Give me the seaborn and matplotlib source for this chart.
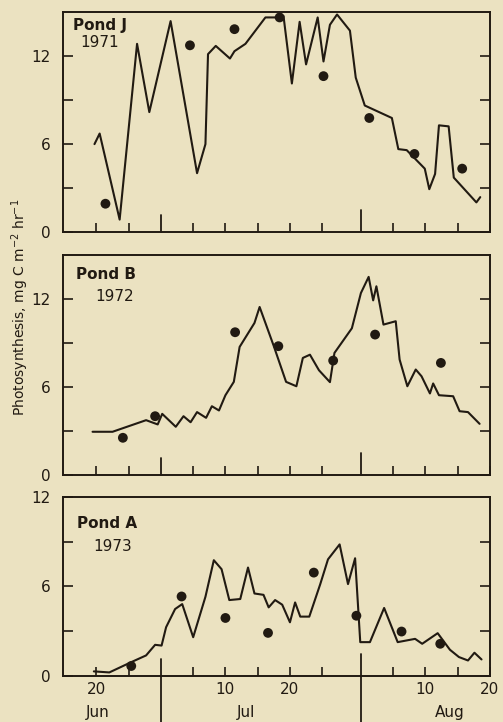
import numpy as np
import pandas as pd
import matplotlib
matplotlib.use('Agg')
import matplotlib.pyplot as plt
import matplotlib.transforms as mtransforms
import seaborn as sns

sns.set_style('ticks')
plt.rcParams['font.family'] = ['DejaVu Sans']

# x is the day counted from 1 June (Jul d -> 30+d, Aug d -> 61+d)
pond_j_day = [19.7, 20.5, 23.6, 26.3, 28.2, 31.5, 35.6, 36.9, 37.3, 38.5, 40.7, 41.4,
              43.1, 46.2, 47.7, 49.0, 50.3, 51.5, 52.5, 54.3, 55.2, 56.2, 57.3, 59.3,
              60.2, 61.6, 65.8, 66.8, 68.1, 70.9, 71.6, 72.5, 73.1, 74.6, 75.4, 78.9, 79.5]
pond_j_val = [5.97, 6.69, 0.83, 12.8, 8.15, 14.35, 3.99, 5.97, 12.1, 12.66, 11.8, 12.3,
              12.8, 14.6, 14.6, 14.7, 10.1, 14.3, 11.4, 14.6, 11.6, 14.1, 14.8, 13.7,
              10.5, 8.6, 7.75, 5.63, 5.56, 4.3, 2.9, 3.94, 7.25, 7.18, 3.69, 2.0, 2.36]
pond_j_dot_day = [21.4, 34.5, 41.4, 48.4, 55.2, 62.3, 69.3, 76.7]
pond_j_dot_val = [1.91, 12.7, 13.8, 14.6, 10.6, 7.75, 5.3, 4.3]

pond_b_day = [19.4, 22.5, 27.7, 29.5, 30.2, 32.3, 33.5, 34.6, 35.6, 37.0, 37.9, 39.0,
              40.0, 41.3, 42.2, 44.5, 45.3, 47.5, 49.4, 51.0, 52.0, 53.1, 54.5, 56.2,
              56.9, 59.6, 61.0, 62.2, 62.9, 63.4, 64.5, 66.4, 67.0, 68.2, 69.5, 70.4,
              71.7, 72.2, 73.1, 75.3, 76.3, 77.6, 79.4]
pond_b_val = [2.95, 2.95, 3.74, 3.45, 4.17, 3.29, 4.01, 3.6, 4.29, 3.9, 4.69, 4.4,
              5.44, 6.35, 8.73, 10.36, 11.45, 8.78, 6.35, 6.05, 7.98, 8.2, 7.14, 6.33,
              8.32, 10.0, 12.4, 13.5, 11.9, 12.86, 10.25, 10.48, 7.87, 6.05, 7.19, 6.73,
              5.56, 6.24, 5.44, 5.37, 4.35, 4.29, 3.49]
pond_b_dot_day = [24.1, 29.1, 41.5, 48.2, 56.7, 63.2, 73.4]
pond_b_dot_val = [2.54, 4.01, 9.73, 8.78, 7.8, 9.57, 7.64]

pond_a_day = [19.6, 22.0, 25.4, 27.7, 29.1, 30.1, 30.8, 32.2, 33.3, 35.0, 36.9, 38.2,
              39.4, 40.6, 42.3, 43.5, 44.5, 45.9, 46.7, 47.7, 48.8, 50.0, 50.8, 51.6,
              53.0, 54.7, 55.9, 57.7, 59.0, 60.1, 60.9, 62.4, 64.6, 66.7, 69.4, 70.5,
              72.9, 74.8, 76.2, 77.6, 78.6, 79.7]
pond_a_val = [0.31, 0.24, 0.93, 1.38, 2.09, 2.04, 3.27, 4.49, 4.82, 2.6, 5.31, 7.76,
              7.16, 5.09, 5.16, 7.27, 5.53, 5.44, 4.6, 5.09, 4.78, 3.6, 4.93, 3.98,
              3.98, 6.16, 7.82, 8.82, 6.16, 7.89, 2.27, 2.27, 4.56, 2.27, 2.49, 2.16,
              2.87, 1.76, 1.27, 1.04, 1.56, 1.11]
pond_a_dot_day = [25.4, 33.2, 40.0, 46.6, 53.7, 60.3, 67.3, 73.3]
pond_a_dot_val = [0.67, 5.33, 3.89, 2.89, 6.93, 4.04, 2.98, 2.16]

pond_names = ['Pond J', 'Pond B', 'Pond A']
pond_years = ['1971', '1972', '1973']
y_tops = [15, 15, 12]

day_ticks = [20, 25, 35, 40, 45, 50, 55, 66, 71, 76, 81]
day_labels = ['20', '', '', '10', '', '20', '', '', '10', '', '20']
month_bounds = [30, 61]
month_names = ['Jun', 'Jul', 'Aug']
month_label_days = [20.2, 43.2, 74.8]

bg = '#ebe2c1'
ink = '#211a12'

fig = plt.figure(figsize=(5.03, 7.22), dpi=100, facecolor=bg)
boxes = [[0.125, 0.679, 0.849, 0.305],
         [0.125, 0.342, 0.849, 0.305],
         [0.125, 0.0637, 0.849, 0.248]]
series = [(pond_j_day, pond_j_val, pond_j_dot_day, pond_j_dot_val),
          (pond_b_day, pond_b_val, pond_b_dot_day, pond_b_dot_val),
          (pond_a_day, pond_a_val, pond_a_dot_day, pond_a_dot_val)]
name_pos = [(0.023, 0.936, 0.087, 0.86),
            (0.03, 0.909, 0.122, 0.81),
            (0.033, 0.85, 0.117, 0.726)]

for i, (box, (ld, lv, dd, dv)) in enumerate(zip(boxes, series)):
    ax = fig.add_axes(box)
    ax.set_facecolor(bg)
    line_df = pd.DataFrame({'day': ld, 'rate': lv})
    dot_df = pd.DataFrame({'day': dd, 'rate': dv})
    sns.lineplot(data=line_df, x='day', y='rate', estimator=None, sort=False,
                 color=ink, linewidth=1.5, ax=ax)
    sns.scatterplot(data=dot_df, x='day', y='rate', color=ink, s=50,
                    edgecolor='none', zorder=3, ax=ax)
    ax.set_xlim(14.8, 81)
    ax.set_ylim(0, y_tops[i])
    ax.set_xlabel('')
    ax.set_ylabel('')
    for sp in ax.spines.values():
        sp.set_visible(True)
        sp.set_color(ink)
        sp.set_linewidth(1.4)

    ax.set_yticks([0, 6, 12])
    ax.set_yticklabels(['0', '6', '12'])
    ax.set_yticks([3, 9], minor=True)
    ax.tick_params(axis='y', which='both', direction='in', length=7, width=1.2,
                   left=True, right=True, colors=ink, labelsize=11, pad=9)

    ax.set_xticks(day_ticks)
    if i == 2:
        ax.set_xticklabels(day_labels)
    else:
        ax.set_xticklabels([])
    ax.tick_params(axis='x', which='both', direction='in', length=6.5, width=1.2,
                   top=False, colors=ink, labelsize=11, pad=4)

    # month boundaries: longer inward ticks, carried below the last panel
    h_px = box[3] * 722
    trans = mtransforms.blended_transform_factory(ax.transData, ax.transAxes)
    for m, L in zip(month_bounds, [17, 22]):
        lo = -46 / h_px if i == 2 else 0
        ax.plot([m, m], [lo, L / h_px], transform=trans, color=ink,
                linewidth=1.3, clip_on=False)

    nx, ny, yx, yy = name_pos[i]
    ax.text(nx, ny, pond_names[i], transform=ax.transAxes, ha='left', va='center',
            fontsize=11, fontweight='bold', color=ink)
    ax.text(yx, yy, pond_years[i], transform=ax.transAxes, ha='center', va='center',
            fontsize=11, color=ink)

    if i == 2:
        for name, d in zip(month_names, month_label_days):
            ax.text(d, -36 / h_px, name, transform=trans, ha='center', va='center',
                    fontsize=11, fontweight='medium', color=ink)

fig.text(0.04, 0.575, 'Photosynthesis, mg C m$^{-2}$ hr$^{-1}$', rotation=90,
         ha='center', va='center', fontsize=10, color=ink)

fig.savefig('out.png', dpi=100, facecolor=bg)
